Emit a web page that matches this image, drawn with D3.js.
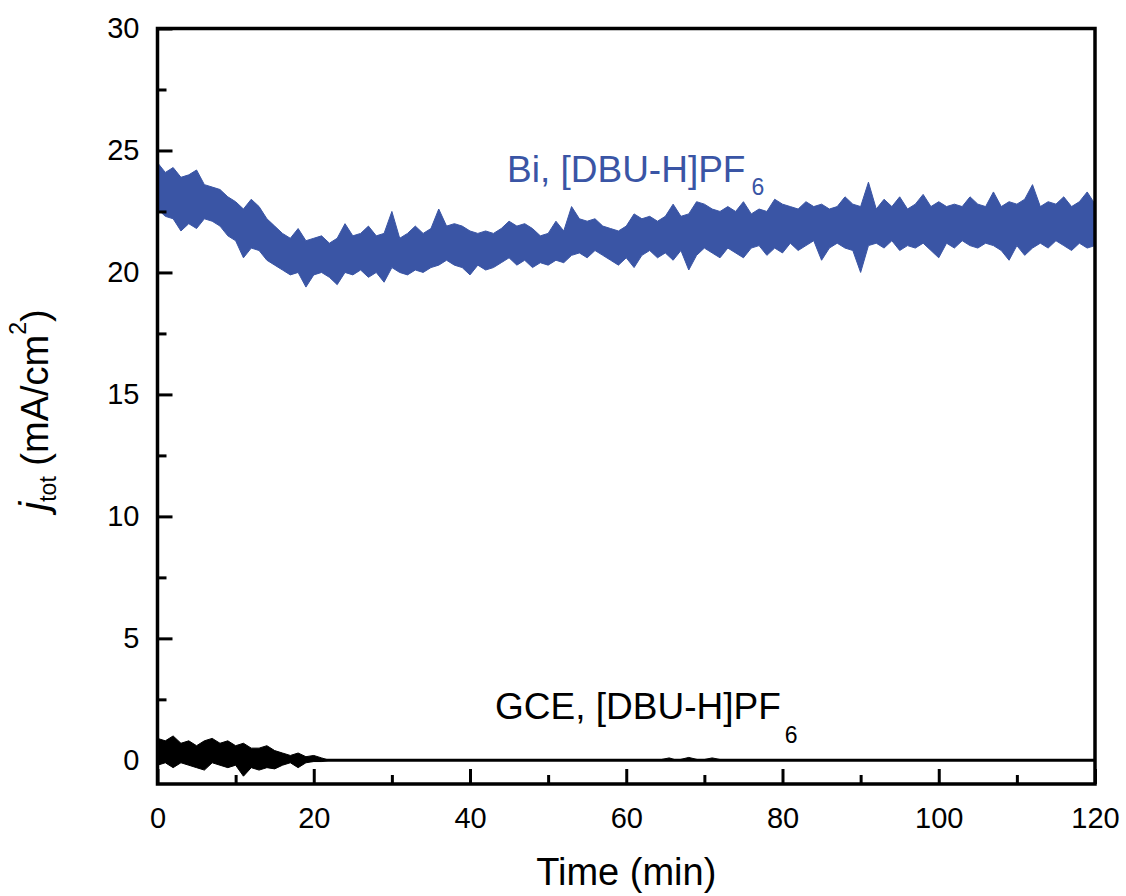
<!DOCTYPE html>
<html>
<head>
<meta charset="utf-8">
<script src="https://cdn.jsdelivr.net/npm/d3@7"></script>
<style>
  body { margin: 0; background: #fff; }
  text { font-family: "Liberation Sans", Arial, sans-serif; }
</style>
</head>
<body>
<script>
// time grid for the Bi trace (min)
var biTime = d3.range(0, 121, 1);

// Bi, [DBU-H]PF6 : upper / lower edge of the noisy band (mA/cm2)
var biHigh = [
  24.5, 24.1, 24.3, 23.9, 24.0, 24.2, 23.6, 23.5, 23.4, 23.1,
  22.9, 22.6, 23.0, 22.7, 22.2, 21.9, 21.6, 21.4, 21.8, 21.3,
  21.4, 21.5, 21.2, 21.4, 22.0, 21.5, 21.6, 21.9, 21.5, 21.6,
  22.5, 21.4, 21.6, 21.9, 21.6, 21.8, 22.6, 21.9, 22.0, 21.9,
  21.7, 21.6, 21.7, 21.6, 21.8, 22.1, 21.9, 22.0, 21.8, 21.5,
  21.6, 22.1, 21.7, 22.7, 22.2, 22.1, 22.2, 21.9, 21.8, 21.7,
  21.9, 22.4, 22.2, 22.3, 22.1, 22.3, 22.8, 22.3, 22.4, 22.9,
  22.8, 22.6, 22.5, 22.7, 22.5, 22.9, 22.4, 22.6, 22.5, 23.0,
  22.8, 22.7, 22.6, 22.9, 22.7, 22.8, 22.6, 22.7, 23.1, 22.8,
  22.7, 23.7, 22.6, 23.0, 22.7, 23.1, 22.6, 22.8, 23.2, 22.7,
  22.9, 22.7, 22.8, 22.7, 23.1, 22.8, 22.7, 23.3, 22.7, 22.9,
  22.8, 23.0, 23.6, 22.7, 22.9, 22.8, 23.1, 22.7, 22.9, 23.3,
  22.8
];
var biLow = [
  22.6, 22.3, 22.2, 21.7, 22.0, 21.8, 22.2, 22.1, 21.9, 21.5,
  21.3, 20.6, 21.0, 20.9, 20.5, 20.3, 20.1, 19.9, 20.0, 19.4,
  19.9, 20.0, 19.8, 19.5, 20.0, 19.9, 20.1, 19.8, 20.0, 19.6,
  20.2, 20.0, 19.9, 20.1, 20.0, 20.2, 20.3, 20.5, 20.3, 20.2,
  19.9, 20.3, 20.1, 20.2, 20.4, 20.6, 20.3, 20.5, 20.2, 20.4,
  20.3, 20.5, 20.4, 20.7, 20.8, 20.6, 20.9, 20.7, 20.5, 20.3,
  20.6, 20.2, 20.7, 20.9, 20.6, 20.8, 20.5, 20.9, 20.1, 20.7,
  21.0, 20.8, 20.6, 21.0, 20.8, 20.6, 21.0, 21.1, 20.7, 21.0,
  20.8, 21.2, 20.9, 21.1, 21.3, 20.5, 21.0, 21.2, 21.0, 20.9,
  20.0, 21.1, 21.2, 21.0, 21.3, 20.9, 21.1, 21.0, 21.2, 20.9,
  20.6, 21.2, 21.0, 21.3, 21.1, 21.0, 21.2, 21.1, 20.9, 20.5,
  21.1, 20.7, 21.0, 21.2, 21.0, 21.3, 21.1, 20.9, 21.2, 21.0,
  21.1
];

// GCE, [DBU-H]PF6 : noise band, then flat at zero
var gceTime = [0, 1, 2, 3, 4, 5, 6, 7, 8, 9, 10, 11, 12, 13, 14, 15, 16, 17, 18, 19, 20, 21, 22,
  64, 65.5, 66.5, 68, 69.5, 71, 72.5, 74, 120];
var gceHigh = [0.9, 0.8, 1.0, 0.7, 0.8, 0.6, 0.8, 0.9, 0.7, 0.8, 0.6, 0.7, 0.5, 0.5, 0.6, 0.4, 0.3, 0.2, 0.3, 0.15, 0.2, 0.1, 0,
  0, 0.1, 0, 0.12, 0, 0.1, 0, 0, 0];
var gceLow = [-0.2, -0.1, -0.3, -0.1, -0.2, -0.3, -0.4, -0.1, -0.2, -0.3, -0.2, -0.65, -0.3, -0.4, -0.3, -0.35, -0.2, -0.1, -0.3, -0.1, -0.05, -0.05, 0,
  0, 0, 0, 0, 0, 0, 0, 0, 0];

var xMajor = [0, 20, 40, 60, 80, 100, 120];
var xMinor = [10, 30, 50, 70, 90, 110];
var yMajor = [0, 5, 10, 15, 20, 25, 30];
var yMinor = [2.5, 7.5, 12.5, 17.5, 22.5, 27.5];

var W = 1126, H = 896;
var L = 157.5, R = 1095, T = 28.5, B = 784;
var blue = "#3a55a5";

var svg = d3.select("body").append("svg")
  .attr("width", W)
  .attr("height", H);

var x = d3.scaleLinear().domain([0, 120]).range([L, R]);
var y = d3.scaleLinear().domain([-0.97, 30]).range([B, T]);

// traces
var biData = biTime.map(function(t, i) { return {t: t, hi: biHigh[i], lo: biLow[i]}; });
var gceData = gceTime.map(function(t, i) { return {t: t, hi: gceHigh[i], lo: gceLow[i]}; });

var band = d3.area()
  .x(function(d) { return x(d.t); })
  .y0(function(d) { return y(d.lo); })
  .y1(function(d) { return y(d.hi); });

svg.append("path")
  .datum(gceData)
  .attr("d", band)
  .attr("fill", "#000")
  .attr("stroke", "#000")
  .attr("stroke-width", 1);

svg.append("path")
  .datum([0, 120])
  .attr("d", d3.line().x(function(d) { return x(d); }).y(y(0)))
  .attr("stroke", "#000")
  .attr("stroke-width", 3)
  .attr("fill", "none");

svg.append("path")
  .datum(biData)
  .attr("d", band)
  .attr("fill", blue)
  .attr("stroke", blue)
  .attr("stroke-width", 1);

// axes (ticks point inward)
function styleAxis(g) {
  g.select(".domain").remove();
  g.selectAll("line").attr("stroke", "#000").attr("stroke-width", 3);
  g.selectAll("text").attr("font-size", 29).attr("fill", "#000")
    .style("font-family", "'Liberation Sans', Arial, sans-serif");
}

svg.append("g")
  .attr("transform", "translate(0," + B + ")")
  .call(d3.axisBottom(x).tickValues(xMajor).tickSize(-15).tickPadding(23).tickFormat(d3.format("d")))
  .call(styleAxis);
svg.append("g")
  .attr("transform", "translate(0," + B + ")")
  .call(d3.axisBottom(x).tickValues(xMinor).tickSize(-9).tickFormat(""))
  .call(styleAxis);

svg.append("g")
  .attr("transform", "translate(" + L + ",0)")
  .call(d3.axisLeft(y).tickValues(yMajor).tickSize(-15).tickPadding(18).tickFormat(d3.format("d")))
  .call(styleAxis);
svg.append("g")
  .attr("transform", "translate(" + L + ",0)")
  .call(d3.axisLeft(y).tickValues(yMinor).tickSize(-9).tickFormat(""))
  .call(styleAxis);

// frame
svg.append("rect")
  .attr("x", L).attr("y", T)
  .attr("width", R - L).attr("height", B - T)
  .attr("fill", "none")
  .attr("stroke", "#000")
  .attr("stroke-width", 3.5);

// series labels
var biLabel = svg.append("text")
  .attr("x", 507).attr("y", 182)
  .attr("font-size", 37)
  .attr("fill", blue);
biLabel.append("tspan").text("Bi, [DBU-H]PF");
biLabel.append("tspan").attr("font-size", 23).attr("dx", 6).attr("dy", 13).text("6");

var gceLabel = svg.append("text")
  .attr("x", 495).attr("y", 719)
  .attr("font-size", 37)
  .attr("fill", "#000");
gceLabel.append("tspan").text("GCE, [DBU-H]PF");
gceLabel.append("tspan").attr("font-size", 23).attr("dx", 4).attr("dy", 24).text("6");

// axis titles
svg.append("text")
  .attr("x", (L + R) / 2).attr("y", 885)
  .attr("text-anchor", "middle")
  .attr("font-size", 38)
  .text("Time (min)");

var yTitle = svg.append("text")
  .attr("transform", "translate(48,410) rotate(-90)")
  .attr("text-anchor", "middle")
  .attr("font-size", 38);
yTitle.append("tspan").attr("font-style", "italic").attr("font-size", 40).text("j");
yTitle.append("tspan").attr("font-size", 23).attr("dy", 8).text("tot");
yTitle.append("tspan").attr("dy", -8).text(" (mA/cm");
yTitle.append("tspan").attr("font-size", 23).attr("dy", -22).text("2");
yTitle.append("tspan").attr("dy", 22).text(")");
</script>
</body>
</html>
